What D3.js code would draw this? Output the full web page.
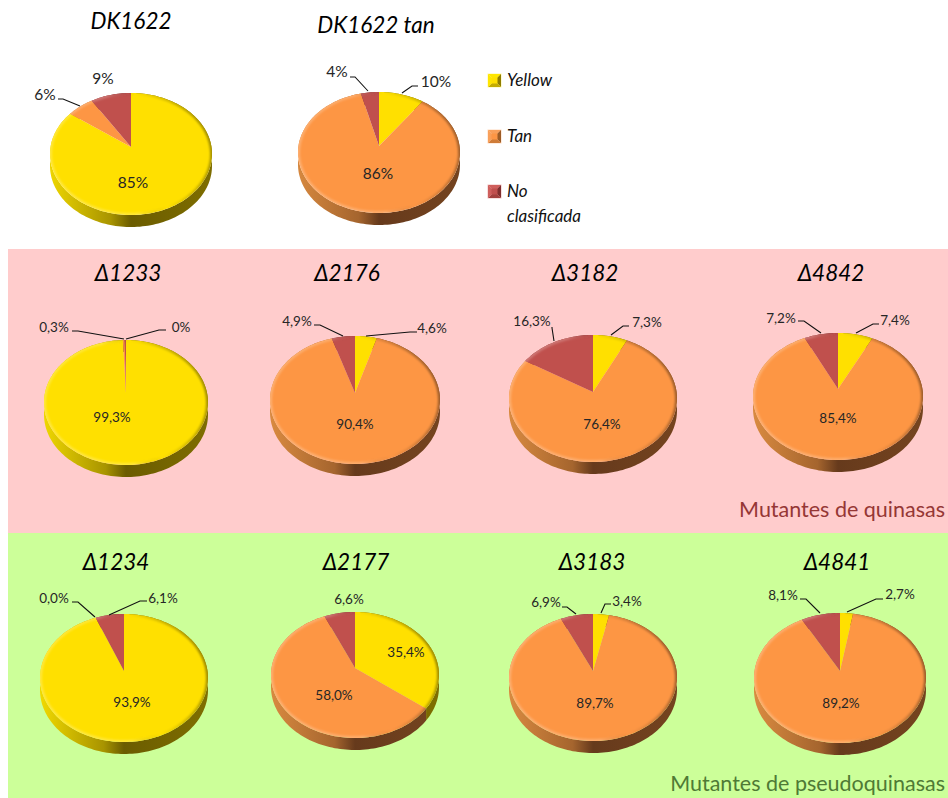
<!DOCTYPE html>
<html>
<head>
<meta charset="utf-8">
<script src="https://cdn.jsdelivr.net/npm/d3@7"></script>
<style>
    html, body { margin: 0; padding: 0; background: #fff; }
    svg { display: block; }
    text { font-family: Lato, "Open Sans", sans-serif; }
</style>
</head>
<body>
<svg id="chart" width="948" height="798"></svg>
<script>
// one entry per strain, same order everywhere
const strains = ["DK1622", "DK1622 tan", "Δ1233", "Δ2176", "Δ3182", "Δ4842", "Δ1234", "Δ2177", "Δ3183", "Δ4841"];
const categories = ["Yellow", "Tan", "No clasificada"];
const yellowValues = [85, 10, 99.3, 4.6, 7.3, 7.4, 93.9, 35.4, 3.4, 2.7];
const tanValues = [6, 86, 0.4, 90.4, 76.4, 85.4, 0, 58.0, 89.7, 89.2];
const noClasValues = [9, 4, 0.3, 4.9, 16.3, 7.2, 6.1, 6.6, 6.9, 8.1];
// printed labels, they do not always agree with the slices in the original
const yellowLabels = ["85%", "10%", "99,3%", "4,6%", "7,3%", "7,4%", "93,9%", "35,4%", "3,4%", "2,7%"];
const tanLabels = ["6%", "86%", "0%", "90,4%", "76,4%", "85,4%", "0,0%", "58,0%", "89,7%", "89,2%"];
const noClasLabels = ["9%", "4%", "0,3%", "4,9%", "16,3%", "7,2%", "6,1%", "6,6%", "6,9%", "8,1%"];

// layout only from here on
// cx, apex = pie tip, top/face = top and bottom of the upper ellipse, rx = half width
const pieBoxes = [
    {cx: 131, apex: 147, top: 93, face: 215, rx: 81, depth: 12},
    {cx: 379, apex: 146, top: 92, face: 213, rx: 81, depth: 12},
    {cx: 126, apex: 393, top: 340, face: 465, rx: 82, depth: 12},
    {cx: 355, apex: 393, top: 336, face: 464, rx: 85, depth: 12},
    {cx: 593, apex: 392, top: 335, face: 462, rx: 84, depth: 12},
    {cx: 838, apex: 389, top: 333, face: 460, rx: 85, depth: 12},
    {cx: 124, apex: 671, top: 614, face: 742, rx: 84, depth: 12},
    {cx: 355, apex: 668, top: 612, face: 738, rx: 84, depth: 12},
    {cx: 593, apex: 671, top: 614, face: 741, rx: 84, depth: 12},
    {cx: 840, apex: 671, top: 613, face: 743, rx: 86, depth: 12}
];
const titleSpots = [[131, 21], [376, 25], [128, 273], [347, 273], [585, 273], [831, 273], [116, 562], [356, 562], [592, 562], [837, 562]];
// label centre per slice (yellow, tan, no clasificada)
const labelSpots = [
    [[133, 183], [45, 95], [103, 79]],
    [[436, 82], [378, 174], [337, 72]],
    [[112, 417], [181, 327], [54, 327]],
    [[432, 328], [355, 424], [297, 321]],
    [[647, 322], [602, 424], [532, 321]],
    [[895, 320], [838, 418], [781, 318]],
    [[132, 702], [54, 598], [163, 598]],
    [[406, 652], [334, 695], [349, 599]],
    [[627, 601], [595, 703], [546, 602]],
    [[900, 594], [841, 703], [783, 595]]
];
const leaderLines = [
    [[58, 99], [63, 99], [80, 106]],
    [[350, 77], [355, 77], [368, 91]],
    [[418, 86], [412, 86], [402, 93]],
    [[72, 331], [78, 331], [124, 339]],
    [[166, 330], [159, 330], [126, 339]],
    [[314, 325], [320, 325], [343, 336]],
    [[417, 332], [410, 332], [366, 336]],
    [[552, 327], [552, 328], [554, 341]],
    [[629, 326], [623, 326], [611, 335]],
    [[798, 321], [804, 321], [821, 333]],
    [[879, 324], [873, 324], [856, 333]],
    [[72, 602], [78, 602], [95, 617]],
    [[147, 601], [140, 601], [109, 615]],
    [[562, 607], [567, 607], [576, 614]],
    [[611, 604], [605, 604], [601, 613]],
    [[800, 599], [806, 599], [820, 613]],
    [[883, 599], [876, 599], [847, 612]]
];
const sliceColors = ["#ffe000", "#fd9644", "#c0504d"];
const sideStops = [
    ["#f2da00", "#a89400", "#6b5c00", "#7f6e00"],
    ["#d98a40", "#a5652e", "#663a1c", "#75441f"],
    ["#b04a48", "#8a3836", "#5e2524", "#6c2b2a"]
];

let svg = d3.select("#chart");
let defs = svg.append("defs");

sideStops.forEach(function (stops, i) {
    let grad = defs.append("linearGradient")
        .attr("id", "side" + i)
        .attr("gradientUnits", "userSpaceOnUse")
        .attr("x1", -85).attr("x2", 85).attr("y1", 0).attr("y2", 0);
    grad.append("stop").attr("offset", "0%").attr("stop-color", stops[0]);
    grad.append("stop").attr("offset", "38%").attr("stop-color", stops[1]);
    grad.append("stop").attr("offset", "50%").attr("stop-color", stops[2]);
    grad.append("stop").attr("offset", "100%").attr("stop-color", stops[3]);
});

// bright rim lower left, faint dark rim on the right
let rim = defs.append("linearGradient")
    .attr("id", "rim")
    .attr("gradientUnits", "userSpaceOnUse")
    .attr("x1", -80).attr("y1", 40).attr("x2", 85).attr("y2", -5);
rim.append("stop").attr("offset", "0%").attr("stop-color", "#fff").attr("stop-opacity", 0.25);
rim.append("stop").attr("offset", "45%").attr("stop-color", "#fff").attr("stop-opacity", 0.22);
rim.append("stop").attr("offset", "62%").attr("stop-color", "#000").attr("stop-opacity", 0);
rim.append("stop").attr("offset", "100%").attr("stop-color", "#000").attr("stop-opacity", 0.4);

let soft = defs.append("filter").attr("id", "soft");
soft.append("feGaussianBlur").attr("stdDeviation", 1);
let softer = defs.append("filter").attr("id", "swatchBlur");
softer.append("feGaussianBlur").attr("stdDeviation", 0.4);

// background bands
svg.append("rect").attr("x", 8).attr("y", 249).attr("width", 940).attr("height", 284).attr("fill", "#ffcccc");
svg.append("rect").attr("x", 8).attr("y", 533).attr("width", 940).attr("height", 265).attr("fill", "#ccff99");

let pie = d3.pie().sort(null).value(d => d);
let line = d3.line();

// circle tilted away from the viewer: the tip sits above the centre of the ellipse
function makeProjection(box) {
    let up = box.apex - box.top;
    let down = box.face - box.apex;
    let k = (up - down) / (up + down);
    let a = up * (1 - k);
    let r = box.rx * Math.sqrt(1 - k * k);
    return function (angle) {
        let X = Math.sin(angle);
        let Y = -Math.cos(angle);
        let w = 1 + k * Y;
        return [r * X / w, a * Y / w];
    };
}

function arcPoints(project, start, end) {
    let n = Math.max(2, Math.ceil((end - start) / 0.03));
    return d3.range(n + 1).map(i => project(start + (end - start) * i / n));
}

strains.forEach(function (name, i) {
    let box = pieBoxes[i];
    let project = makeProjection(box);
    let values = [yellowValues[i], tanValues[i], noClasValues[i]];
    let labels = [yellowLabels[i], tanLabels[i], noClasLabels[i]];
    let arcs = pie(values);

    let g = svg.append("g")
        .attr("class", "pie")
        .attr("transform", "translate(" + box.cx + "," + box.apex + ")");

    // side wall first, top faces cover what should not show
    g.selectAll(".wall")
        .data(arcs)
        .enter().append("path")
        .attr("class", "wall")
        .attr("fill", (d, j) => "url(#side" + j + ")")
        .attr("d", function (d) {
            let pts = arcPoints(project, d.startAngle, d.endAngle);
            let low = pts.map(p => [p[0], p[1] + box.depth]).reverse();
            return line(pts.concat(low)) + "Z";
        });

    g.selectAll(".slice")
        .data(arcs)
        .enter().append("path")
        .attr("class", "slice")
        .attr("fill", (d, j) => sliceColors[j])
        .attr("d", d => line([[0, 0]].concat(arcPoints(project, d.startAngle, d.endAngle))) + "Z");

    // clip rim to the face so it only shades inward
    let outline = line(arcPoints(project, 0, 2 * Math.PI)) + "Z";
    defs.append("clipPath").attr("id", "face" + i).append("path").attr("d", outline);
    g.append("g")
        .attr("clip-path", "url(#face" + i + ")")
        .append("path")
        .attr("d", outline)
        .attr("fill", "none")
        .attr("stroke", "url(#rim)")
        .attr("stroke-width", 4)
        .attr("filter", "url(#soft)");

    svg.append("text")
        .attr("x", titleSpots[i][0])
        .attr("y", titleSpots[i][1])
        .attr("dy", "0.35em")
        .attr("text-anchor", "middle")
        .attr("font-style", "italic")
        .attr("font-size", 22.5)
        .attr("fill", "#000")
        .text(name);

    labels.forEach(function (txt, j) {
        svg.append("text")
            .attr("x", labelSpots[i][j][0])
            .attr("y", labelSpots[i][j][1])
            .attr("dy", "0.35em")
            .attr("text-anchor", "middle")
            .attr("font-size", i < 2 ? 15.5 : 13.5)
            .attr("fill", "#262626")
            .text(txt);
    });
});

svg.selectAll(".leader")
    .data(leaderLines)
    .enter().append("path")
    .attr("class", "leader")
    .attr("d", d => line(d))
    .attr("fill", "none")
    .attr("stroke", "#111")
    .attr("stroke-width", 1.1);

// legend
const legendTop = [74, 130, 185];
const legendEdge = [["#ffe600", "#8f7d00", "#c4ac00"], ["#f9a05a", "#9c5c28", "#cf7c38"], ["#cf5f5c", "#7f2f2e", "#a33f3d"]];
const legendRim = ["#fff7a8", "#ffd9bd", "#f0c0c0"];
categories.forEach(function (cat, i) {
    let s = svg.append("g").attr("transform", "translate(488," + legendTop[i] + ")");
    let size = 13, m = size / 2;
    let tris = [
        [[0, 0], [size, 0], [m, m]],
        [[size, 0], [size, size], [m, m]],
        [[0, size], [size, size], [m, m]],
        [[0, 0], [0, size], [m, m]]
    ];
    s.append("rect").attr("x", -0.5).attr("y", -0.5).attr("width", size + 1).attr("height", size + 1).attr("fill", legendRim[i]);
    let sw = s.append("g").attr("filter", "url(#swatchBlur)");
    sw.selectAll("path")
        .data(tris)
        .enter().append("path")
        .attr("d", d => line(d) + "Z")
        .attr("fill", (d, j) => [legendEdge[i][0], legendEdge[i][1], legendEdge[i][2], legendEdge[i][0]][j]);
    sw.append("rect").attr("x", 3.5).attr("y", 3.5).attr("width", 6).attr("height", 6).attr("fill", sliceColors[i]);

    let words = cat === "No clasificada" ? ["No", "clasificada"] : [cat];
    words.forEach(function (w, j) {
        svg.append("text")
            .attr("x", 507)
            .attr("y", legendTop[i] + 6.5 + j * 25)
            .attr("dy", "0.35em")
            .attr("font-style", "italic")
            .attr("font-size", 17)
            .attr("fill", "#111")
            .text(w);
    });
});

svg.append("text")
    .attr("x", 945).attr("y", 509).attr("dy", "0.35em")
    .attr("text-anchor", "end")
    .attr("font-size", 21.5)
    .attr("fill", "#953735")
    .text("Mutantes de quinasas");
svg.append("text")
    .attr("x", 945).attr("y", 783).attr("dy", "0.35em")
    .attr("text-anchor", "end")
    .attr("font-size", 21.5)
    .attr("fill", "#4f7a35")
    .text("Mutantes de pseudoquinasas");
</script>
</body>
</html>
